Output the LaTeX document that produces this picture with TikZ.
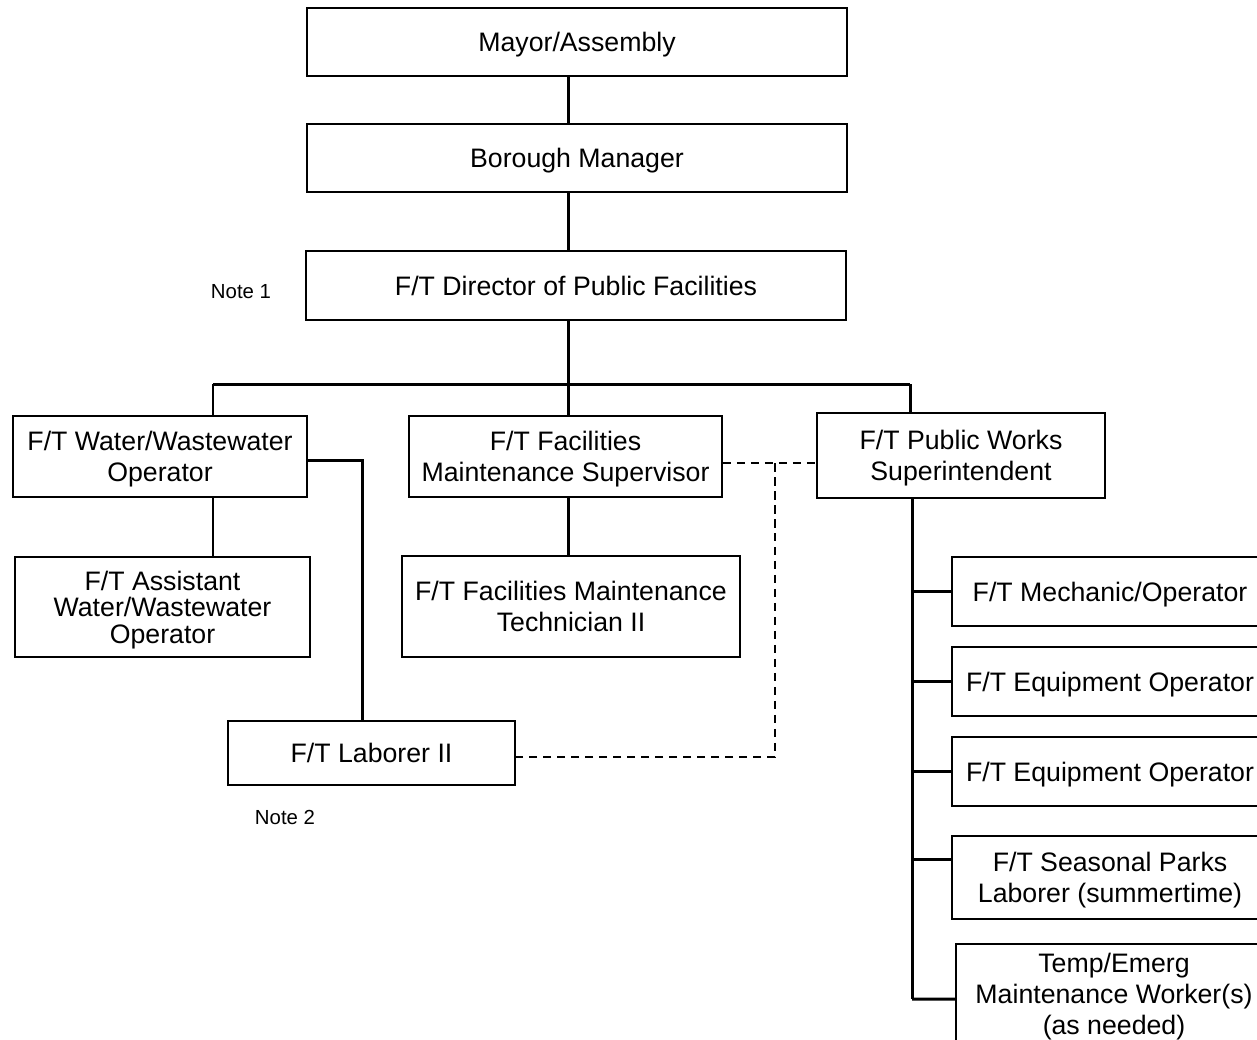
\documentclass[tikz,border=0pt]{standalone}
\usepackage{fontspec}
\setmainfont{Liberation Sans}
\tikzset{
	box/.style={draw, line width=1.1pt, align=center, inner sep=0pt, fill=white, text depth=0pt,
		font=\fontsize{15.2}{17.6}\selectfont},
	sz/.style 2 args={minimum width=#1*0.02cm, minimum height=#2*0.02cm},
	link/.style={line width=1.7pt},
	dashlink/.style={line width=1.4pt, dash pattern=on 0.17cm off 0.11cm},
	note/.style={font=\fontsize{11.6}{14}\selectfont}
}
\begin{document}
\begin{tikzpicture}[x=0.02cm,y=-0.02cm,line join=miter]
		\useasboundingbox (0,0) rectangle (1257,1039);
		\clip (0,0) rectangle (1257,1039);
		%
		\node[box,sz={540}{68}] (mayor) at (577,42) {Mayor/Assembly};
		\node[box,sz={540}{68}] (manager) at (577,158) {Borough Manager};
		\node[box,sz={540}{69}] (director) at (576,285.5) {F/T Director of Public Facilities};
		\node[note] (note1) at (241,292) {Note 1};
		%
		\node[box,sz={294}{81}] (water) at (160,456.5) {F/T Water/Wastewater\\Operator};
		\node[box,sz={313}{81}] (super) at (565.5,456.5) {F/T Facilities\\Maintenance Supervisor};
		\node[box,sz={288}{85}] (pws) at (961,455.5) {F/T Public Works\\Superintendent};
		\node[box,sz={295}{100},font=\fontsize{15.2}{15}\selectfont] (assist) at (162.5,607) {F/T Assistant\\Water/Wastewater\\Operator};
		\node[box,sz={338}{101}] (tech) at (571,606.5) {F/T Facilities Maintenance\\Technician II};
		\node[box,sz={287}{64}] (laborer) at (371.5,753) {F/T Laborer II};
		\node[note] (note2) at (285,817) {Note 2};
		%
		\node[box,sz={316}{69}] (mech) at (1110,591.5) {F/T Mechanic/Operator};
		\node[box,sz={316}{69}] (eqA) at (1110,681.5) {F/T Equipment Operator};
		\node[box,sz={316}{69}] (eqB) at (1110,771.5) {F/T Equipment Operator};
		\node[box,sz={316}{83}] (seas) at (1110,877.5) {F/T Seasonal Parks\\Laborer (summertime)};
		\node[box,sz={316}{100}] (temp) at (1114,994) {Temp/Emerg\\Maintenance Worker(s)\\(as needed)};
		%
		\coordinate (busL) at (213,384);
		\coordinate (busM) at (568,384);
		\coordinate (busR) at (910,384);
		\draw[link] (mayor.south -| busM) -- (manager.north -| busM);
		\draw[link] (manager.south -| busM) -- (director.north -| busM);
		\draw[link] (director.south -| busM) -- (busM);
		\draw[link] (busL) -- (busR);
		\draw[link] (busL) -- (busL |- water.north);
		\draw[link] (busM) -- (busM |- super.north);
		\draw[link] (busR) -- (busR |- pws.north);
		\draw[link] (busL |- water.south) -- (busL |- assist.north);
		\draw[link] (busM |- super.south) -- (busM |- tech.north);
		\draw[link] ([yshift=-0.07cm]water.east) -| ([xshift=-0.19cm]laborer.north);
		%
		\coordinate (dj) at (775,463);
		\draw[dashlink] (super.east |- dj) -- (pws.west |- dj);
		\draw[dashlink] (dj) |- ([yshift=-0.08cm]laborer.east);
		%
		\coordinate (spT) at (912,498);
		\coordinate (spB) at (912,999);
		\coordinate (seasIn) at ([yshift=0.37cm]seas.west);
		\draw[link] (spT) -- (spB);
		\foreach \n in {mech,eqA,eqB}
			\draw[link] (\n.west) -- (\n.west -| spT);
		\draw[link] (seasIn) -- (seasIn -| spT);
		\draw[link] ([yshift=-0.1cm]temp.west) -- (spB);
	\end{tikzpicture}
\end{document}
